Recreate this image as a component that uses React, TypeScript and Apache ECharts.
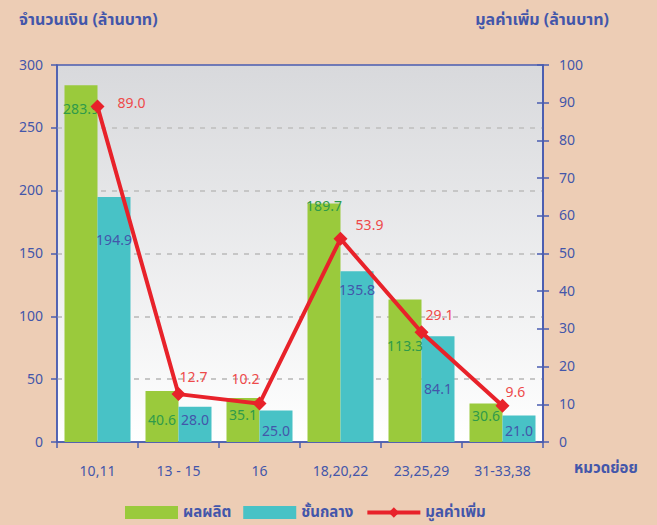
import React, { useEffect, useRef } from "react";
import * as echarts from "echarts";

const categories = ["10,11", "13 - 15", "16", "18,20,22", "23,25,29", "31-33,38"];
const outputValues = [283.9, 40.6, 35.1, 189.7, 113.3, 30.6];
const intermediateValues = [194.9, 28.0, 25.0, 135.8, 84.1, 21.0];
const valueAdded = [89.0, 12.7, 10.2, 53.9, 29.1, 9.6];

const seriesNames = ["ผลผลิต", "ชั้นกลาง", "มูลค่าเพิ่ม"];
const leftTitle = "จำนวนเงิน (ล้านบาท)";
const rightTitle = "มูลค่าเพิ่ม (ล้านบาท)";
const xName = "หมวดย่อย";

// label placement (style only)
const outputLabelDy = [17, 23, 11, -4, 40, 6];
const interLabelDy = [36, 7, 14, 12, 46, 9];
const lineLabelOffset = [
  [34, -3],
  [15, -17],
  [-14, -24],
  [29, -13],
  [18, -17],
  [13, -13],
];

const FONT = "Tahoma, 'Noto Sans Thai', 'Noto Sans', 'DejaVu Sans', sans-serif";
const BLUE = "#4356aa";
const AXIS_BLUE = "#4a5cb0";
const RED = "#e8222a";

export default function App() {
  const ref = useRef<HTMLDivElement>(null);
  useEffect(() => {
    if (!ref.current) return;
    const chart = echarts.init(ref.current, null, { renderer: "svg" });
    chart.setOption({
      animation: false,
      backgroundColor: "#EDCDB5",
      textStyle: { fontFamily: FONT },
      title: [
        {
          text: leftTitle,
          left: 14,
          top: 7,
          textStyle: { color: BLUE, fontSize: 16, fontWeight: "bold", fontFamily: FONT },
        },
        {
          text: rightTitle,
          right: 43,
          top: 7,
          textStyle: { color: BLUE, fontSize: 16, fontWeight: "bold", fontFamily: FONT },
        },
      ],
      grid: {
        left: 57,
        right: 114,
        top: 65,
        bottom: 83,
        show: true,
        borderColor: AXIS_BLUE,
        borderWidth: 1.5,
        backgroundColor: {
          type: "linear",
          x: 0,
          y: 0,
          x2: 0,
          y2: 1,
          colorStops: [
            { offset: 0, color: "#d8d9dc" },
            { offset: 1, color: "#ffffff" },
          ],
        },
      },
      legend: {
        left: 120,
        top: 500,
        itemWidth: 53,
        itemHeight: 13,
        itemGap: 12,
        textStyle: { color: BLUE, fontSize: 15, fontWeight: "bold", fontFamily: FONT },
        data: [
          { name: seriesNames[0], icon: "rect" },
          { name: seriesNames[1], icon: "rect" },
          { name: seriesNames[2], lineStyle: { width: 4, color: RED } },
        ],
      },
      xAxis: {
        type: "category",
        data: categories,
        boundaryGap: true,
        name: xName,
        nameLocation: "end",
        nameGap: 31,
        nameTextStyle: {
          color: BLUE,
          fontSize: 15,
          fontWeight: "bold",
          verticalAlign: "top",
          padding: [19, 0, 0, 0],
        },
        axisLine: { lineStyle: { color: AXIS_BLUE, width: 1.5 } },
        axisTick: { show: true, length: 6, lineStyle: { color: AXIS_BLUE, width: 1.5 } },
        axisLabel: { color: BLUE, fontSize: 14, margin: 22 },
      },
      yAxis: [
        {
          type: "value",
          min: 0,
          max: 300,
          interval: 50,
          position: "left",
          axisLine: { show: true, lineStyle: { color: AXIS_BLUE, width: 1.5 } },
          axisTick: { show: true, length: 6, lineStyle: { color: AXIS_BLUE, width: 1.5 } },
          axisLabel: { color: BLUE, fontSize: 14, margin: 14 },
          splitLine: {
            show: true,
            showMaxLine: false,
            showMinLine: false,
            lineStyle: { color: "#c6c6c6", width: 2, type: [5, 6] },
          },
        },
        {
          type: "value",
          min: 0,
          max: 100,
          interval: 10,
          position: "right",
          axisLine: { show: true, lineStyle: { color: AXIS_BLUE, width: 1.5 } },
          axisTick: { show: true, length: 6, lineStyle: { color: AXIS_BLUE, width: 1.5 } },
          axisLabel: { color: BLUE, fontSize: 14, margin: 16 },
          splitLine: { show: false },
        },
        {
          type: "value",
          min: 0,
          max: 100,
          interval: 10,
          position: "right",
          axisLine: { show: true, lineStyle: { color: AXIS_BLUE, width: 1.5 } },
          axisTick: { show: true, inside: true, length: 6, lineStyle: { color: AXIS_BLUE, width: 1.5 } },
          axisLabel: { show: false },
          splitLine: { show: false },
        },
      ],
      series: [
        {
          name: seriesNames[0],
          type: "bar",
          barWidth: 33,
          barGap: "0%",
          itemStyle: { color: "#9aca3c" },
          data: outputValues.map((v, i) => ({
            value: v,
            label: { offset: [0, outputLabelDy[i]] },
          })),
          label: {
            show: true,
            position: "insideTop",
            distance: 0,
            color: "#2f9a4a",
            fontSize: 14,
            formatter: (p: any) => Number(p.value).toFixed(1),
          },
        },
        {
          name: seriesNames[1],
          type: "bar",
          barWidth: 33,
          barGap: "0%",
          itemStyle: { color: "#48c2c6" },
          data: intermediateValues.map((v, i) => ({
            value: v,
            label: { offset: [0, interLabelDy[i]] },
          })),
          label: {
            show: true,
            position: "insideTop",
            distance: 0,
            color: "#4356aa",
            fontSize: 14,
            formatter: (p: any) => Number(p.value).toFixed(1),
          },
        },
        {
          name: seriesNames[2],
          type: "line",
          yAxisIndex: 1,
          symbol: "diamond",
          symbolSize: 14,
          lineStyle: { color: RED, width: 4 },
          itemStyle: { color: RED },
          z: 5,
          data: valueAdded.map((v, i) => ({
            value: v,
            label: { offset: lineLabelOffset[i] },
          })),
          label: {
            show: true,
            position: "inside",
            color: "#ee4a4a",
            fontSize: 14,
            formatter: (p: any) => Number(p.value).toFixed(1),
          },
        },
      ],
    });
    return () => chart.dispose();
  }, []);
  return <div ref={ref} style={{ width: 657, height: 525, position: "absolute", left: 0, top: 0 }} />;
}
